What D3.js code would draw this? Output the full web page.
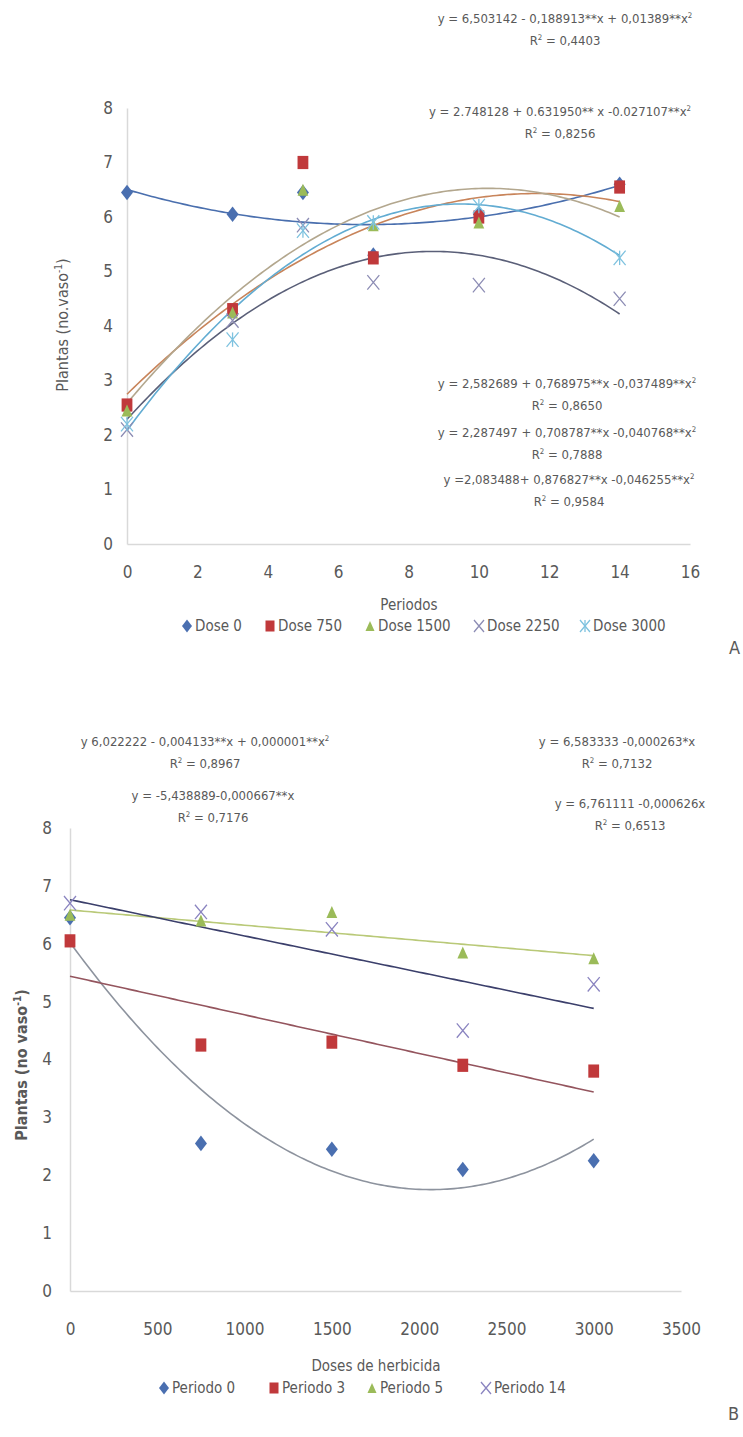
<!DOCTYPE html>
<html><head><meta charset="utf-8">
<script src="https://cdn.jsdelivr.net/npm/d3@7"></script>
<style>
body{margin:0;background:#fff}
svg{display:block}
text{font-family:"Liberation Sans Narrow","Arial Narrow","DejaVu Sans Condensed",sans-serif;fill:#595959}
</style>
</head><body>
<svg id="c" width="743" height="1437"></svg>
<script>
// ---------- Chart A data ----------
const periodos = [0, 3, 5, 7, 10, 14];
const dose0    = [6.45, 6.05, 6.45, 5.3, 6.05, 6.6];
const dose750  = [2.55, 4.3, 7.0, 5.25, 6.0, 6.55];
const dose1500 = [2.45, 4.25, 6.5, 5.85, 5.9, 6.2];
const dose2250 = [2.1, 4.1, 5.85, 4.8, 4.75, 4.5];
const dose3000 = [2.2, 3.75, 5.75, 5.9, 6.2, 5.25];
const fitDose0    = [6.503142, -0.188913, 0.01389];
const fitDose750  = [2.748128, 0.631950, -0.027107];
const fitDose1500 = [2.582689, 0.768975, -0.037489];
const fitDose2250 = [2.287497, 0.708787, -0.040768];
const fitDose3000 = [2.083488, 0.876827, -0.046255];
const seriesNamesA = ["Dose 0", "Dose 750", "Dose 1500", "Dose 2250", "Dose 3000"];
const xTicksA = [0, 2, 4, 6, 8, 10, 12, 14, 16];
const yTicksA = [0, 1, 2, 3, 4, 5, 6, 7, 8];
const eqTextsA = [
  ["y = 6,503142 - 0,188913**x + 0,01389**x", "R", " = 0,4403"],
  ["y = 2.748128 + 0.631950** x -0.027107**x", "R", " = 0,8256"],
  ["y = 2,582689 + 0,768975**x -0,037489**x", "R", " = 0,8650"],
  ["y = 2,287497 + 0,708787**x -0,040768**x", "R", " = 0,7888"],
  ["y =2,083488+ 0,876827**x -0,046255**x", "R", " = 0,9584"]
];

// ---------- Chart B data ----------
const doses = [0, 750, 1500, 2250, 3000];
const periodo0  = [6.45, 2.55, 2.45, 2.1, 2.25];
const periodo3  = [6.05, 4.25, 4.3, 3.9, 3.8];
const periodo5  = [6.5, 6.4, 6.55, 5.85, 5.75];
const periodo14 = [6.7, 6.55, 6.25, 4.5, 5.3];
const fitPeriodo0  = [6.022222, -0.004133, 0.000001];
const fitPeriodo3  = [5.438889, -0.000667, 0];
const fitPeriodo5  = [6.583333, -0.000263, 0];
const fitPeriodo14 = [6.761111, -0.000626, 0];
const seriesNamesB = ["Periodo 0", "Periodo 3", "Periodo 5", "Periodo 14"];
const xTicksB = [0, 500, 1000, 1500, 2000, 2500, 3000, 3500];
const yTicksB = [0, 1, 2, 3, 4, 5, 6, 7, 8];
const eqTextsB = [
  ["y 6,022222 - 0,004133**x + 0,000001**x", "R", " = 0,8967", true],
  ["y = -5,438889-0,000667**x", "R", " = 0,7176", false],
  ["y = 6,583333 -0,000263*x", "R", " = 0,7132", false],
  ["y = 6,761111 -0,000626x", "R", " = 0,6513", false]
];

const svg = d3.select("#c");

function quad(c, x) { return c[0] + c[1] * x + c[2] * x * x; }

function marker(g, shape, color, cx, cy, s) {
  if (shape === "diamond") {
    const w = s * 0.5, h = s * 0.65;
    g.append("path").attr("d", `M${cx},${cy - h}L${cx + w},${cy}L${cx},${cy + h}L${cx - w},${cy}Z`)
      .attr("fill", color);
  } else if (shape === "square") {
    g.append("rect").attr("x", cx - s * 0.45).attr("y", cy - s * 0.55)
      .attr("width", s * 0.9).attr("height", s * 1.1).attr("fill", color);
  } else if (shape === "triangle") {
    const h = s * 1.0, w = s * 0.9;
    g.append("path").attr("d", `M${cx},${cy - h / 2}L${cx + w / 2},${cy + h / 2}L${cx - w / 2},${cy + h / 2}Z`)
      .attr("fill", color);
  } else if (shape === "x" || shape === "star") {
    const r = s * 0.5, ry = s * 0.6;
    g.append("path").attr("d", `M${cx - r},${cy - ry}L${cx + r},${cy + ry}M${cx + r},${cy - ry}L${cx - r},${cy + ry}`)
      .attr("stroke", color).attr("stroke-width", 1.3).attr("fill", "none");
    if (shape === "star")
      g.append("path").attr("d", `M${cx},${cy - ry}L${cx},${cy + ry}`)
        .attr("stroke", color).attr("stroke-width", 1.3);
  }
}

function eqText(g, x, y, t, size) {
  const a = g.append("text").attr("x", x).attr("y", y).attr("text-anchor", "middle")
    .style("font-size", size + "px").attr("fill", "#6a6a6a");
  a.append("tspan").text(t[0]);
  if (t[3] !== false) a.append("tspan").text("2").attr("dy", -5).style("font-size", (size * 0.6) + "px");
  const b = g.append("text").attr("x", x).attr("y", y + 22).attr("text-anchor", "middle")
    .style("font-size", size + "px").attr("fill", "#6a6a6a");
  b.append("tspan").text(t[1]);
  b.append("tspan").text("2").attr("dy", -5).style("font-size", (size * 0.6) + "px");
  b.append("tspan").text(t[2]).attr("dy", 5);
}

function drawAxes(g, x, y, xTicks, yTicks, xPad, yPad) {
  const ax = g.append("g").attr("transform", `translate(0,${y(0)})`)
    .call(d3.axisBottom(x).tickValues(xTicks).tickFormat(d3.format("d")).tickSize(0).tickSizeOuter(0).tickPadding(xPad));
  const ay = g.append("g").attr("transform", `translate(${x(0)},0)`)
    .call(d3.axisLeft(y).tickValues(yTicks).tickFormat(d3.format("d")).tickSize(0).tickSizeOuter(0).tickPadding(yPad));
  [ax, ay].forEach(a => {
    a.select(".domain").attr("stroke", "#d9d9d9").attr("stroke-width", 1.5);
    a.selectAll("text").style("font-size", "17px").attr("fill", "#595959");
  });
}

// ================= Chart A =================
{
  const g = svg.append("g");
  const x = d3.scaleLinear().domain([0, 16]).range([127, 690]);
  const y = d3.scaleLinear().domain([0, 8]).range([544, 108]);
  drawAxes(g, x, y, xTicksA, yTicksA, 22, 14);

  const vals = [dose0, dose750, dose1500, dose2250, dose3000];
  const fits = [fitDose0, fitDose750, fitDose1500, fitDose2250, fitDose3000];
  const mColors = ["#4a6fb0", "#c0393b", "#9bbb59", "#8c8cb4", "#7ec2df"];
  const lColors = ["#4a6fae", "#c8845a", "#b3a78e", "#5a5f78", "#62acd2"];
  const shapes = ["diamond", "square", "triangle", "x", "star"];
  const line = d3.line().x(d => x(d[0])).y(d => y(d[1])).curve(d3.curveLinear);
  const xs = d3.range(0, 14.001, 0.1);
  fits.forEach((c, i) => {
    g.append("path").attr("d", line(xs.map(v => [v, quad(c, v)])))
      .attr("fill", "none").attr("stroke", lColors[i]).attr("stroke-width", 1.6);
  });
  vals.forEach((arr, i) => {
    arr.forEach((v, j) => marker(g, shapes[i], mColors[i], x(periodos[j]), y(v), 12));
  });

  // y-axis title
  const yt = g.append("text").attr("transform", "translate(68,325) rotate(-90)")
    .attr("text-anchor", "middle").style("font-size", "16px").attr("fill", "#7a7a7a");
  yt.append("tspan").text("Plantas (no.vaso");
  yt.append("tspan").text("-1").attr("dy", -6).style("font-size", "10px");
  yt.append("tspan").text(")").attr("dy", 6);

  g.append("text").attr("x", 409).attr("y", 610).attr("text-anchor", "middle")
    .style("font-size", "15px").text("Periodos");

  // legend
  const legX = [187, 270, 370, 479, 585];
  seriesNamesA.forEach((n, i) => {
    marker(g, shapes[i], mColors[i], legX[i], 626, 10);
    g.append("text").attr("x", legX[i] + 8).attr("y", 631).style("font-size", "15px").text(n);
  });
  g.append("text").attr("x", 729).attr("y", 654).style("font-size", "18px").attr("fill", "#222").text("A");

  // equations
  const eqPos = [[565, 23], [560, 116], [567, 388], [567, 437], [569, 484]];
  eqTextsA.forEach((t, i) => eqText(g, eqPos[i][0], eqPos[i][1], t, 13));
}

// ================= Chart B =================
{
  const g = svg.append("g");
  const x = d3.scaleLinear().domain([0, 3500]).range([70, 681]);
  const y = d3.scaleLinear().domain([0, 8]).range([1291, 828]);
  drawAxes(g, x, y, xTicksB, yTicksB, 32, 18);

  const vals = [periodo0, periodo3, periodo5, periodo14];
  const fits = [fitPeriodo0, fitPeriodo3, fitPeriodo5, fitPeriodo14];
  const mColors = ["#4a6fb0", "#c0393b", "#9bbb59", "#8a84c0"];
  const lColors = ["#8d939e", "#94555e", "#b9c978", "#3b3f6b"];
  const shapes = ["diamond", "square", "triangle", "x"];
  const line = d3.line().x(d => x(d[0])).y(d => y(d[1]));
  const xs = d3.range(0, 3000.001, 20);
  fits.forEach((c, i) => {
    g.append("path").attr("d", line(xs.map(v => [v, quad(c, v)])))
      .attr("fill", "none").attr("stroke", lColors[i]).attr("stroke-width", 1.6);
  });
  vals.forEach((arr, i) => {
    arr.forEach((v, j) => marker(g, shapes[i], mColors[i], x(doses[j]), y(v), 12));
  });

  const yt = g.append("text").attr("transform", "translate(27,1065) rotate(-90)")
    .attr("text-anchor", "middle").style("font-size", "16px").style("font-weight", "bold").attr("fill", "#555");
  yt.append("tspan").text("Plantas (no vaso");
  yt.append("tspan").text("-1").attr("dy", -6).style("font-size", "10px");
  yt.append("tspan").text(")").attr("dy", 6);

  g.append("text").attr("x", 376).attr("y", 1371).attr("text-anchor", "middle")
    .style("font-size", "15px").text("Doses de herbicida");

  const legX = [164, 274, 372, 486];
  seriesNamesB.forEach((n, i) => {
    marker(g, shapes[i], mColors[i], legX[i], 1388, 10);
    g.append("text").attr("x", legX[i] + 8).attr("y", 1393).style("font-size", "15px").text(n);
  });
  g.append("text").attr("x", 728).attr("y", 1420).style("font-size", "18px").attr("fill", "#222").text("B");

  const eqPos = [[205, 746], [213, 800], [617, 746], [630, 808]];
  eqTextsB.forEach((t, i) => eqText(g, eqPos[i][0], eqPos[i][1], t, 13));
}
</script>
</body></html>
